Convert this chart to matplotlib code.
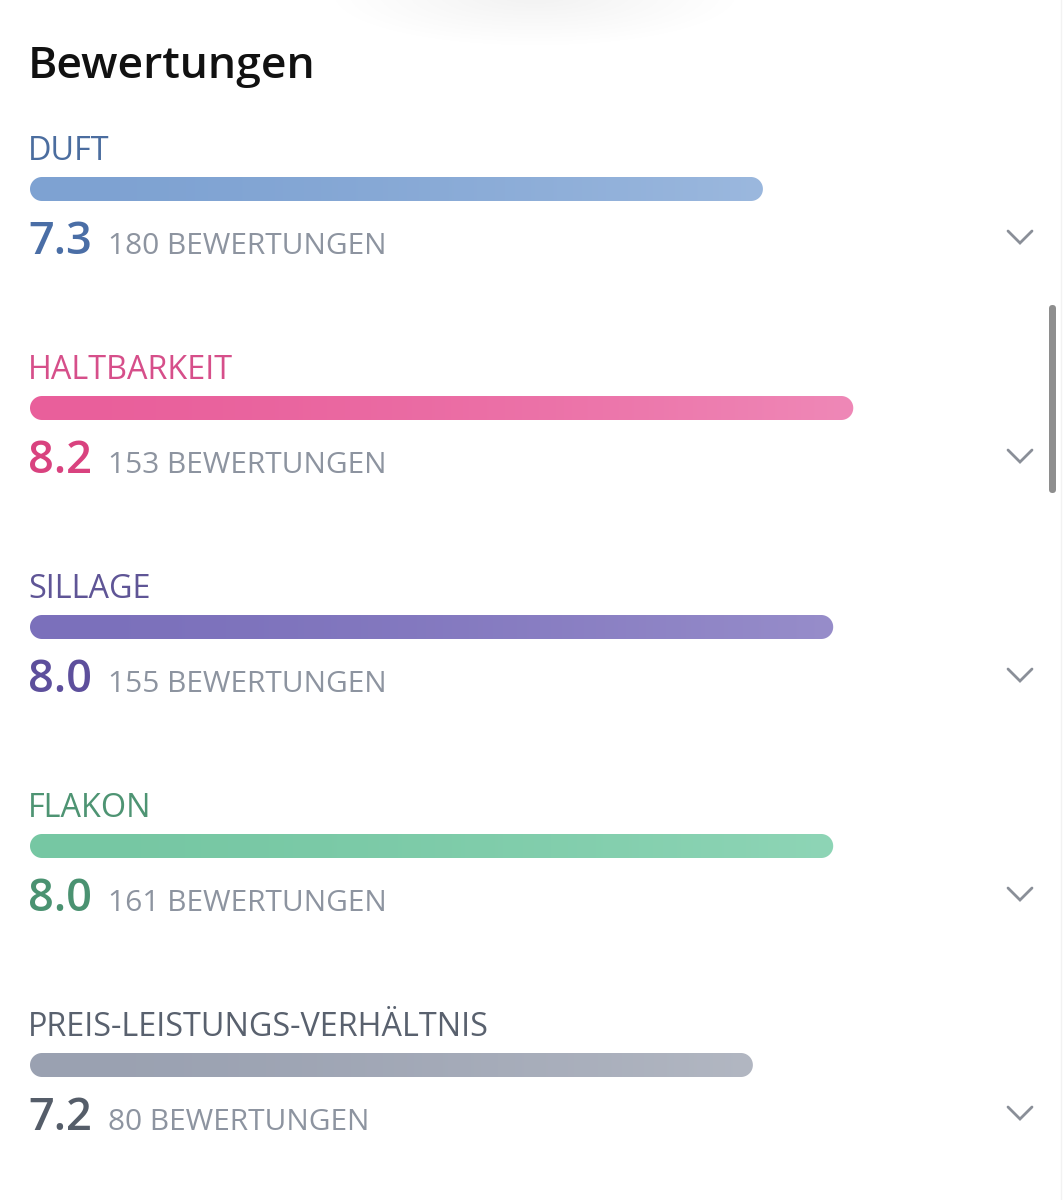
import numpy as np
import matplotlib
matplotlib.use("Agg")
import matplotlib.pyplot as plt
from matplotlib.patches import FancyBboxPatch, Ellipse, PathPatch
from matplotlib.path import Path
from matplotlib.colors import to_rgb

# ---- data ----
title = "Bewertungen"
categories = ["DUFT", "HALTBARKEIT", "SILLAGE", "FLAKON", "PREIS-LEISTUNGS-VERHÄLTNIS"]
scores = [7.3, 8.2, 8.0, 8.0, 7.2]
counts = [180, 153, 155, 161, 80]
count_suffix = "BEWERTUNGEN"

# ---- styles ----
label_colors = ["#4b6d9f", "#d64f8a", "#5f5596", "#4e9473", "#59616e"]
value_colors = ["#4a6ea6", "#d9427f", "#5d4f9c", "#4a9271", "#555d69"]
bar_start_colors = ["#7ea2d2", "#e95f9b", "#7b70bb", "#76c7a3", "#9aa1b1"]
bar_end_colors = ["#9bb8de", "#ef88b7", "#978dca", "#8ed5b6", "#b2b7c2"]
count_color = "#8d94a0"
FONT = ["Open Sans", "DejaVu Sans"]

W, H = 1064, 1200
PX_PER_UNIT = 100.4
LEFT_PX = 30
ROW0 = 189
ROW_STEP = 219
BAR_H = 24
TXT_DX = -2 / PX_PER_UNIT

fig = plt.figure(figsize=(W / 100, H / 100), dpi=100)
fig.patch.set_facecolor("white")

# decoration axes in pixel coords
deco = fig.add_axes([0, 0, 1, 1])
deco.set_xlim(0, W)
deco.set_ylim(H, 0)
deco.axis("off")

# very faint shadow at top
for k in range(12):
    f = 1 - k / 12
    deco.add_patch(Ellipse((535, -5), 360 * f + 40, 90 * f + 10, color="#9a9a9a",
                           alpha=0.006, lw=0))

# scrollbar
deco.add_patch(FancyBboxPatch((1049, 305), 7, 188, boxstyle="round,pad=0,rounding_size=3.5",
                              fc="#8e8e8e", ec="none"))
deco.plot([1061, 1061], [0, H], color="#f2f2f2", lw=1)

# data axes: x in score units, y in pixel rows
ax = fig.add_axes([0, 0, 1, 1])
ax.set_xlim(-LEFT_PX / PX_PER_UNIT, (W - LEFT_PX) / PX_PER_UNIT)
ax.set_ylim(H, 0)
ax.axis("off")
ax.patch.set_alpha(0)

ax.text(TXT_DX, 66, title, fontsize=32, fontweight="semibold", color="#111111",
        family=FONT, va="center", ha="left")


def pill_path(x0, x1, yc, rx, ry, n=40):
    th_r = np.linspace(-np.pi / 2, np.pi / 2, n)
    th_l = np.linspace(np.pi / 2, 3 * np.pi / 2, n)
    right = np.column_stack([x1 - rx + rx * np.cos(th_r), yc + ry * np.sin(th_r)])
    left = np.column_stack([x0 + rx + rx * np.cos(th_l), yc + ry * np.sin(th_l)])
    verts = np.vstack([right, left, right[:1]])
    codes = [Path.MOVETO] + [Path.LINETO] * (len(verts) - 2) + [Path.CLOSEPOLY]
    return Path(verts, codes)


for i, (cat, s, n) in enumerate(zip(categories, scores, counts)):
    yc = ROW0 + i * ROW_STEP
    # category label
    ax.text(TXT_DX, yc - 29, cat, fontsize=23.3, color=label_colors[i], family=FONT,
            va="baseline", ha="left")
    # gradient bar
    c0, c1 = np.array(to_rgb(bar_start_colors[i])), np.array(to_rgb(bar_end_colors[i]))
    t = np.linspace(0, 1, 256)
    grad = t[None, :, None] ** 1.6
    img = c0 + (c1 - c0) * grad
    img = np.repeat(img, 4, axis=0)
    im = ax.imshow(img, extent=[0, s, yc + BAR_H / 2, yc - BAR_H / 2], aspect="auto",
                   interpolation="bilinear", zorder=2)
    clip = PathPatch(pill_path(0, s, yc, BAR_H / 2 / PX_PER_UNIT, BAR_H / 2),
                     fc="none", ec="none", transform=ax.transData)
    ax.add_patch(clip)
    im.set_clip_path(clip)
    # value + count
    ax.text(TXT_DX, yc + 65, f"{s:.1f}", fontsize=32.5, fontweight="semibold",
            color=value_colors[i], family=FONT, va="baseline", ha="left")
    ax.text((108 - LEFT_PX) / PX_PER_UNIT, yc + 65, f"{n} {count_suffix}", fontsize=21.5,
            color=count_color, family=FONT, va="baseline", ha="left")

# chevrons
for i in range(len(categories)):
    yc = ROW0 + i * ROW_STEP + 48
    deco.plot([1008, 1020, 1032], [yc - 6, yc + 6, yc - 6], color="#8a8f98", lw=2.0,
              solid_capstyle="round", solid_joinstyle="miter")

fig.savefig("out.png", dpi=100, facecolor="white")
